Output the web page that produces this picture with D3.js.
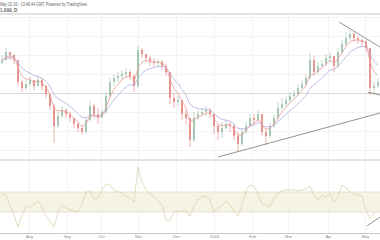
<!DOCTYPE html>
<html><head><meta charset="utf-8">
<script src="https://cdn.jsdelivr.net/npm/d3@7"></script>
<style>html,body{margin:0;padding:0;background:#fff;overflow:hidden}svg{display:block}</style>
</head><body><svg id="c" width="380" height="240"></svg>
<script>
// ---- data (price units are relative, no price axis is visible) ----
const firstOpen = 97;
const closes = [100,108,105,100,78,72,76,80,74,80,
  74,66,54,34,44,50,46,42,36,32,
  28,40,54,46,42,48,64,78,82,84,
  86,88,84,74,110,106,102,98,97,98,
  94,88,62,58,60,46,42,20,42,46,
  48,50,46,34,28,32,36,34,24,16,
  28,34,42,40,46,28,24,34,42,52,
  56,60,64,66,72,76,82,100,88,94,
  96,102,104,94,108,116,122,126,122,120,
  118,112,72,74,78];
const highs = [105,112,108,106,98,80,80,83,80,84,
  82,75,66,56,48,54,52,48,42,38,
  34,42,59,56,52,51,68,82,86,88,
  90,92,90,86,114,112,106,104,102,101,
  100,96,88,66,64,60,50,42,48,50,
  52,54,52,46,36,38,40,38,36,28,
  32,38,46,46,50,46,32,38,46,58,
  62,64,68,70,76,80,86,107,104,98,
  100,106,108,104,112,120,128,130,128,124,
  122,120,112,78,82];
const lows = [96,99,100,96,74,68,70,74,70,74,
  70,62,50,17,32,42,42,38,32,28,
  25,26,38,42,36,43,46,62,74,78,
  80,82,80,68,72,102,98,94,93,93,
  90,84,56,52,54,40,36,13,18,40,
  44,44,42,26,20,22,30,28,20,8,
  14,26,34,36,38,24,15,22,32,40,
  50,54,58,62,64,70,74,80,84,86,
  92,94,98,88,92,106,114,120,118,116,
  114,108,65,66,72];
const oscValues = [58,57,46,37,25,37,45,45,48,51,
  45,36,30,25,40,47,44,42,41,40,
  48,60,61,53,54,62,68,67,62,60,
  59,56,54,50,85,70,62,58,55,52,
  47,32,32,40,41,41,41,36,46,52,
  55,56,52,40,45,46,51,47,41,36,
  47,61,67,66,57,48,47,46,54,59,
  61,62,62,62,61,62,63,66,57,52,
  57,54,59,50,55,67,64,60,58,57,
  56,42,33,39,41];
const oscBand = [40, 60];
const monthLabels = ["Aug","Sep","Oct","Nov","Dec","2016","Feb","Mar","Apr","May"];
const monthPositions = [6.75,16.25,24.75,34,43.5,53,62.5,71.5,81.5,90.75];
const priceGrid = [10,29,48,67,86,105,124,143];
const supportLevel = 67;
const resistanceLine = [[84.25,138],[94.5,113]];
const risingSupport = [[54,3],[94.5,47]];
const wedgeLine = [[91.5,67.7],[94.5,65]];
const oscTrend = [[91.25,26],[94.5,35]];
const fastPeriod = 4, slowPeriod = 9;
const headerText = "May 20,16 - 13:49:44 GMT, Powered by TradingView";
const symbolText = "1.099, D";

// ---- drawing ----
const W = 380, H = 240;
const svg = d3.select("#c");
const x = d3.scaleLinear().domain([-0.5, 94.5]).range([0, W]);
const y = d3.scaleLinear().domain([0, 145]).range([160, 15]);
const yo = d3.scaleLinear().domain([19, 91]).range([233, 161]);

const opens = closes.map((c,i)=> i ? closes[i-1] : firstOpen);
function ema(arr, n){ const k = 2/(n+1); let p = arr[0]; return arr.map(v => (p = v*k + p*(1-k))); }
const fast = ema(closes, fastPeriod), slow = ema(closes, slowPeriod);

svg.append("rect").attr("width",W).attr("height",H).attr("fill","#fff");

// header
svg.append("text").attr("x",0).attr("y",5.5).attr("font-family","Liberation Sans, Arial, sans-serif")
  .attr("font-size",4.6).attr("fill","#666").attr("textLength",87).attr("lengthAdjust","spacingAndGlyphs").text(headerText);
svg.append("text").attr("x",0).attr("y",11.5).attr("font-family","Liberation Sans, Arial, sans-serif")
  .attr("font-size",4.6).attr("font-weight","bold").attr("fill","#666").text(symbolText);
svg.append("line").attr("x1",0).attr("x2",W).attr("y1",14).attr("y2",14).attr("stroke","#c8c8c8").attr("stroke-width",1.2);

// grids
const grid = svg.append("g").attr("stroke","#f0f0f0").attr("stroke-width",0.8);
grid.selectAll(".v").data(monthPositions).join("line")
  .attr("x1",d=>Math.round(x(d))+0.5).attr("x2",d=>Math.round(x(d))+0.5).attr("y1",15).attr("y2",233);
grid.selectAll(".h").data(priceGrid).join("line")
  .attr("x1",0).attr("x2",W).attr("y1",d=>Math.round(y(d))+0.5).attr("y2",d=>Math.round(y(d))+0.5);
svg.append("line").attr("x1",0).attr("x2",W).attr("y1",Math.round(y(supportLevel))+0.5).attr("y2",Math.round(y(supportLevel))+0.5)
  .attr("stroke","#dadada").attr("stroke-width",1);

// main pane
const main = svg.append("g");
const bars = main.selectAll(".bar").data(closes.map((c,i)=>({i,o:opens[i],c,h:highs[i],l:lows[i]}))).join("g");
bars.append("line").attr("x1",d=>x(d.i)).attr("x2",d=>x(d.i)).attr("y1",d=>y(d.h)).attr("y2",d=>y(d.l))
  .attr("stroke",d=>d.c>=d.o?"#6ba583":"#d75442").attr("stroke-width",0.7).attr("opacity",0.6);
bars.append("rect").attr("x",d=>x(d.i)-0.9).attr("width",1.8)
  .attr("y",d=>y(Math.max(d.o,d.c))).attr("height",d=>Math.max(0.8, Math.abs(y(d.o)-y(d.c))))
  .attr("fill",d=>d.c>=d.o?"#6ba583":"#d75442").attr("opacity",0.55);

const line = d3.line().x((d,i)=>x(i)).y(d=>y(d)).curve(d3.curveMonotoneX);
main.append("path").datum(slow).attr("d",line).attr("fill","none").attr("stroke","#b3acdf").attr("stroke-width",0.8);
main.append("path").datum(fast).attr("d",line).attr("fill","none").attr("stroke","#ee9aa0").attr("stroke-width",0.8);

const seg = (pts, ys) => d3.line().x(d=>x(d[0])).y(d=>ys(d[1]))(pts);
[resistanceLine, risingSupport, wedgeLine].forEach(p =>
  main.append("path").attr("d",seg(p,y)).attr("stroke","#666").attr("stroke-width",0.7).attr("fill","none"));

// separator
svg.append("line").attr("x1",0).attr("x2",W).attr("y1",160).attr("y2",160).attr("stroke","#c8c8c8").attr("stroke-width",1);

// oscillator pane
svg.append("rect").attr("x",0).attr("width",W).attr("y",yo(oscBand[1])).attr("height",yo(oscBand[0])-yo(oscBand[1]))
  .attr("fill","#f5f4e4");
oscBand.forEach(v => svg.append("line").attr("x1",0).attr("x2",W).attr("y1",yo(v)).attr("y2",yo(v))
  .attr("stroke","#e2dfc4").attr("stroke-width",0.8));
svg.append("path").datum(oscValues).attr("d",d3.line().x((d,i)=>x(i)).y(d=>yo(d)))
  .attr("fill","none").attr("stroke","#d9d4b0").attr("stroke-width",0.8);
svg.append("path").attr("d",seg(oscTrend,yo)).attr("stroke","#666").attr("stroke-width",0.7).attr("fill","none");

// bottom axis
svg.append("line").attr("x1",0).attr("x2",W).attr("y1",233.5).attr("y2",233.5).attr("stroke","#c8c8c8").attr("stroke-width",1);
const axis = d3.axisBottom(x).tickValues(monthPositions).tickFormat((d,i)=>monthLabels[i]).tickSize(0).tickPadding(1.5);
const ax = svg.append("g").attr("transform","translate(0,234)").call(axis);
ax.select(".domain").remove();
ax.selectAll("text").attr("font-family","Liberation Sans, Arial, sans-serif").attr("font-size",4).attr("fill","#888");
</script></body></html>
